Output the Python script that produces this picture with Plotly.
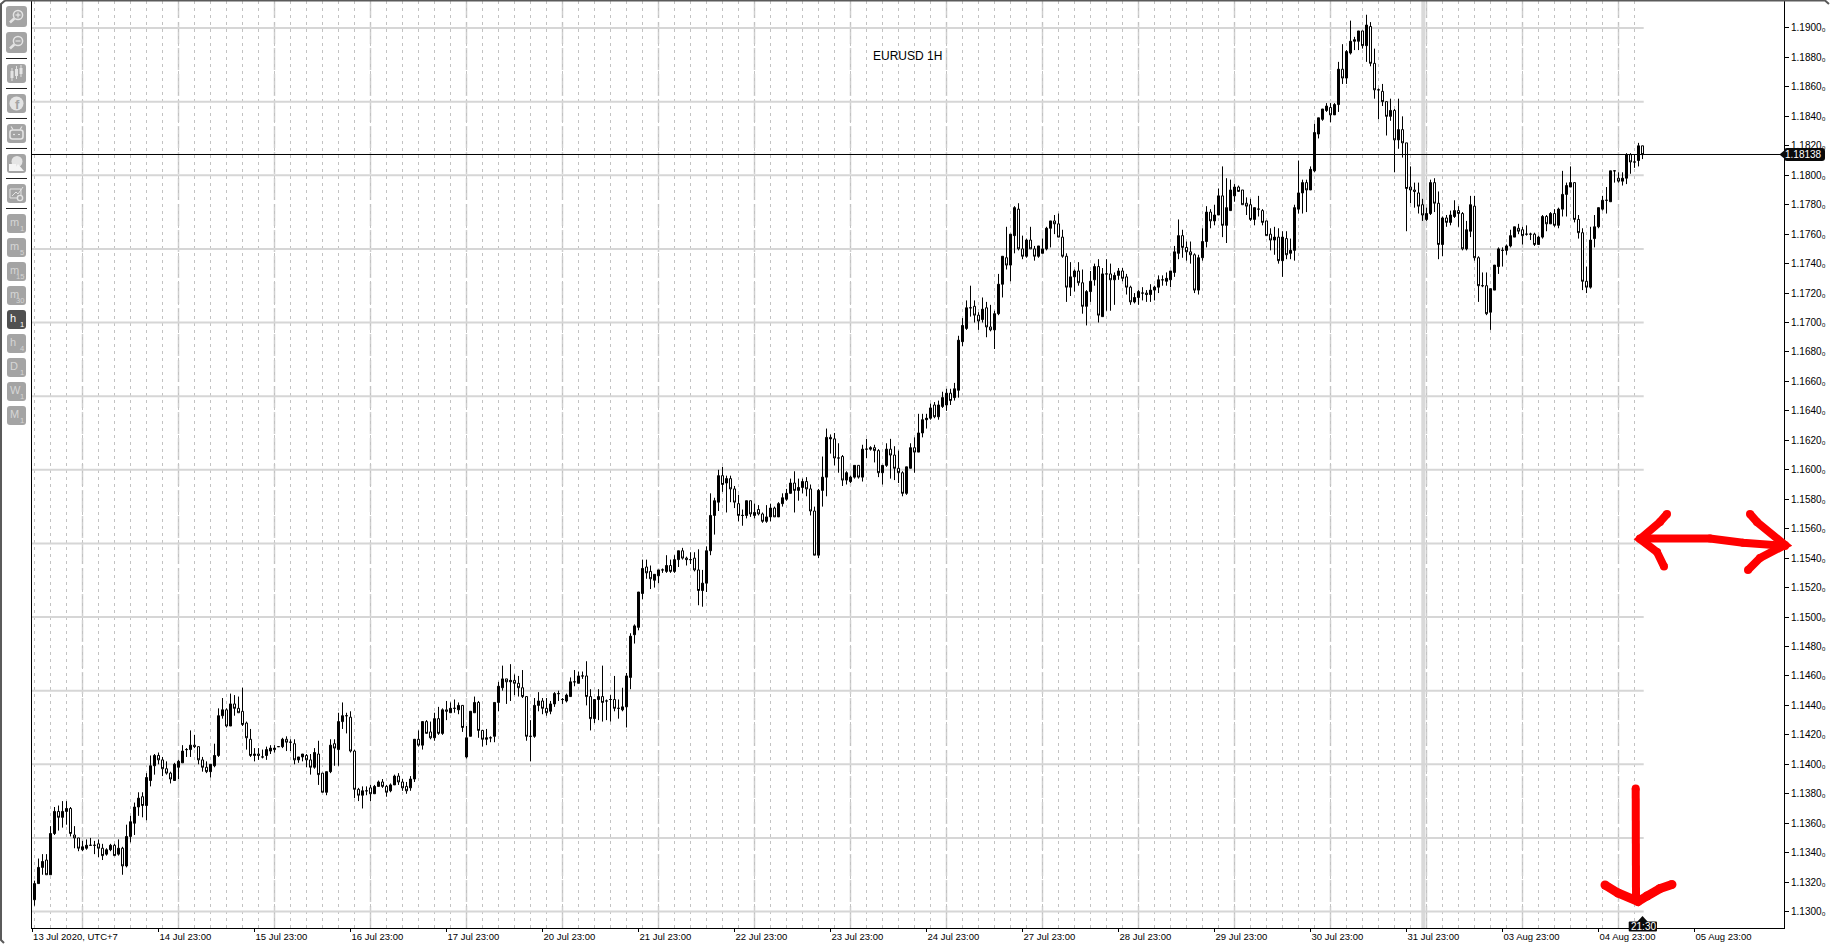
import plotly.graph_objects as go

BASE_PRICE = 1.13
PIP = 0.0001
OPEN = [
8,19,30,35,25,53,68,64,68,70,
52,50,42,43,45,45,46,43,39,42,
45,39,43,31,51,60,71,78,72,89,
99,106,103,97,94,89,98,101,110,110,
113,112,103,98,95,99,106,133,137,126,
141,138,136,128,117,106,107,105,106,109,
110,112,112,117,115,114,103,105,106,103,
98,107,94,81,95,114,110,129,133,132,
109,83,79,82,84,80,85,88,85,82,
86,92,88,85,84,90,117,113,129,122,
118,131,121,137,135,138,137,140,105,119,
135,142,123,117,118,119,142,152,158,156,
157,155,152,146,119,119,140,143,138,136,
141,148,144,143,146,156,155,160,160,146,
131,144,146,143,144,144,138,137,139,159,
188,193,216,234,231,225,228,232,231,235,
231,239,245,240,239,240,232,218,223,245,
269,278,296,291,294,287,277,269,269,279,
269,273,270,265,268,274,268,277,280,284,
291,286,288,292,287,272,242,286,295,322,
321,308,309,293,292,295,303,295,314,314,
315,313,298,303,314,310,301,298,284,301,
315,312,325,334,335,344,336,343,344,352,
349,354,387,396,410,411,405,402,410,397,
395,406,426,444,439,459,477,450,445,456,
450,445,447,450,464,469,467,458,445,424,
431,435,427,411,421,429,438,404,433,433,
429,432,435,431,424,414,417,420,420,419,
422,424,429,428,429,434,447,459,451,448,
446,422,444,455,475,469,473,486,466,476,
486,492,490,481,480,470,477,476,469,460,
456,458,442,457,447,449,477,488,495,490,
503,528,538,544,546,541,548,572,566,583,
591,591,598,588,601,576,558,557,550,540,
544,524,531,522,492,490,488,480,470,474,
495,481,453,471,468,472,476,474,450,462,
479,444,425,425,407,422,438,449,449,452,
458,464,463,460,460,460,453,458,472,467,
474,466,477,487,492,495,470,461,428,424,
457,465,477,483,482,503,498,496,498,514,
509,510,520]
HIGH = [
21,36,39,39,58,71,72,75,75,71,
58,50,48,49,50,48,49,46,43,46,
46,49,44,59,65,74,81,81,94,106,
107,108,105,102,95,101,103,113,111,123,
120,112,105,102,100,114,138,145,138,148,
147,146,152,129,124,111,111,110,112,113,
113,112,118,119,117,117,105,107,107,107,
111,116,94,95,117,117,135,142,135,136,
110,84,85,85,86,86,89,90,86,87,
93,94,90,88,92,117,123,129,130,129,
135,139,138,143,142,144,142,140,126,136,
146,143,123,124,119,142,156,167,158,168,
161,160,164,146,130,145,149,145,145,143,
149,150,145,148,159,164,163,163,170,151,
144,151,167,144,147,160,144,152,162,189,
195,217,239,239,235,229,232,233,242,239,
242,245,247,241,244,244,246,232,248,284,
281,300,302,296,296,289,283,273,279,279,
277,276,271,276,277,275,278,284,287,294,
299,294,294,295,290,275,287,309,328,324,
325,318,310,299,296,303,303,317,321,316,
317,314,303,318,321,316,313,299,302,318,
322,338,338,338,345,346,347,353,355,355,
359,391,403,415,425,415,407,417,414,412,
408,433,445,465,460,479,481,459,457,465,
452,452,457,465,469,473,474,463,447,441,
436,441,436,422,435,440,443,437,443,440,
434,437,437,433,425,420,422,424,422,426,
425,432,432,434,435,452,470,463,455,455,
447,446,464,479,477,480,491,506,498,497,
494,493,490,485,484,478,486,477,469,464,
465,464,462,462,457,480,510,497,497,506,
535,539,545,549,549,549,577,589,585,605,
594,598,598,609,604,586,559,562,550,552,
545,552,540,522,506,495,495,484,478,497,
498,489,472,473,476,483,479,475,469,486,
486,445,434,434,423,439,451,451,453,463,
465,467,465,466,461,461,459,473,473,475,
477,478,503,495,506,495,473,464,438,465,
473,478,486,492,503,503,502,502,515,515,
514,522,520]
LOW = [
4,19,25,25,25,52,55,57,59,51,
43,41,41,42,45,39,37,35,38,41,
38,38,25,30,47,52,65,64,62,85,
93,100,92,93,87,89,90,101,105,105,
111,100,95,94,91,98,105,131,125,126,
133,135,126,110,105,102,103,104,103,107,
108,112,111,109,109,100,101,102,98,93,
97,86,81,79,94,99,99,124,121,108,
77,75,70,79,75,80,85,84,78,81,
86,86,82,80,82,88,112,110,121,117,
116,120,120,130,135,135,134,122,104,119,
135,118,112,113,115,115,136,150,141,143,
147,146,145,116,102,118,136,134,133,134,
139,143,141,142,146,153,155,158,140,123,
128,130,129,130,129,136,131,136,125,151,
182,191,212,226,219,220,223,230,230,230,
230,234,239,235,236,231,208,207,217,242,
256,272,285,271,278,274,265,262,267,268,
267,269,264,264,265,268,268,275,279,284,
271,279,284,282,269,242,240,275,282,311,
303,298,289,290,291,294,294,292,308,313,
305,295,290,302,294,293,291,282,283,301,
298,312,322,328,334,335,334,342,340,344,
347,349,384,395,404,400,395,400,390,394,
382,405,417,436,428,447,449,443,444,450,
442,444,447,449,451,460,458,444,414,418,
421,425,406,398,414,425,400,404,408,408,
412,429,428,419,412,413,412,415,414,414,
415,420,425,425,424,431,443,444,442,440,
420,419,442,451,464,466,473,458,454,476,
482,489,480,473,469,466,472,466,459,449,
446,440,431,443,443,442,474,474,475,490,
502,525,537,543,536,541,543,562,562,582,
585,585,586,577,574,552,538,547,527,537,
502,518,512,462,481,478,474,469,469,473,
475,443,445,465,466,471,465,449,449,458,
442,414,424,405,395,422,433,438,446,451,
458,460,453,459,456,452,453,457,462,467,
465,464,472,472,492,468,457,422,420,423,
451,464,476,474,482,495,495,493,494,501,
505,506,511]
CLOSE = [
19,30,34,25,53,68,64,68,70,53,
50,43,44,45,45,45,43,38,42,45,
38,43,31,51,61,71,77,72,91,99,
106,103,97,94,90,100,102,109,110,113,
112,103,98,95,100,106,133,137,126,141,
138,135,127,118,106,107,106,105,110,111,
111,112,117,115,115,103,105,107,103,98,
108,93,81,95,113,111,129,133,133,109,
83,79,82,82,80,85,88,85,81,86,
92,88,84,82,90,117,113,129,121,118,
131,121,137,136,138,138,140,125,118,136,
142,123,117,118,118,142,153,158,156,157,
155,152,146,119,119,140,143,138,135,141,
148,148,144,147,156,156,160,160,146,131,
144,146,142,143,144,138,138,139,160,187,
194,217,233,230,226,229,232,232,235,231,
239,245,240,239,239,232,218,223,245,269,
279,296,290,294,287,278,269,269,279,270,
271,270,265,268,274,268,277,281,284,291,
286,288,292,287,272,242,286,295,322,321,
308,308,293,298,295,303,295,314,314,315,
313,298,303,314,310,301,298,284,302,315,
312,325,334,335,342,336,344,349,352,347,
355,388,398,410,410,405,401,409,397,395,
406,426,445,439,460,478,450,445,456,450,
445,452,450,464,469,467,458,445,424,431,
435,427,411,421,428,438,405,433,433,429,
432,435,430,424,414,417,421,420,419,422,
424,429,429,430,435,448,459,451,448,446,
422,444,455,475,469,473,486,466,478,490,
492,489,480,479,470,478,477,468,459,456,
458,442,458,446,449,478,488,495,490,504,
529,539,545,547,541,548,572,566,584,591,
592,598,588,602,576,558,558,550,540,544,
524,531,522,491,490,489,479,473,474,495,
481,453,471,468,473,476,474,450,463,480,
444,425,425,406,423,439,450,449,452,459,
465,462,459,460,460,453,458,472,467,474,
466,477,487,493,495,470,461,428,424,456,
465,478,483,483,503,503,496,498,514,509,
509,520,514]

X_TICK_LABELS = ["13 Jul 2020, UTC+7", "14 Jul 23:00", "15 Jul 23:00", "16 Jul 23:00", "17 Jul 23:00",
                 "20 Jul 23:00", "21 Jul 23:00", "22 Jul 23:00", "23 Jul 23:00", "24 Jul 23:00",
                 "27 Jul 23:00", "28 Jul 23:00", "29 Jul 23:00", "30 Jul 23:00", "31 Jul 23:00",
                 "03 Aug 23:00", "04 Aug 23:00", "05 Aug 23:00"]
X_TICK_BARS = [-0.6] + [31 + 24 * k for k in range(17)]
Y_TICKS = [round(1.13 + 0.002 * k, 3) for k in range(31)]
Y_GRID = [round(1.13 + 0.005 * k, 3) for k in range(13)]
LAST_PRICE = 1.18138
PRICE_LINE = 1.18141
SYMBOL = "EURUSD 1H"
COUNTDOWN = "21:30"
TIMEFRAMES = [("m", "1"), ("m", "5"), ("m", "15"), ("m", "30"), ("h", "1"), ("h", "4"), ("D", "1"), ("W", "1"), ("M", "1")]

bars = list(range(len(OPEN)))
to_price = lambda seq: [round(BASE_PRICE + v * PIP, 5) for v in seq]

W, H = 1830, 944
L, R, T, B = 32, 46, 0, 16
PW, PH = W - L - R, H - T - B
PX = lambda px: (px - L) / PW
PY = lambda py: 1 - (py - T) / PH
FONT = "Liberation Sans"


def poly(points, close=False):
    s = "M" + " L".join(f"{PX(x):.5f},{PY(y):.5f}" for x, y in points)
    return s + (" Z" if close else "")


def rrect(x0, y0, x1, y1, r=3):
    p = lambda x, y: f"{PX(x):.5f},{PY(y):.5f}"
    return (f"M{p(x0+r,y0)} L{p(x1-r,y0)} Q{p(x1,y0)} {p(x1,y0+r)} L{p(x1,y1-r)} Q{p(x1,y1)} {p(x1-r,y1)} "
            f"L{p(x0+r,y1)} Q{p(x0,y1)} {p(x0,y1-r)} L{p(x0,y0+r)} Q{p(x0,y0)} {p(x0+r,y0)} Z")


shapes, notes = [], []


def add_path(d, fill=None, line=None, lw=1, layer="above"):
    shapes.append(dict(type="path", path=d, xref="paper", yref="paper", layer=layer,
                       fillcolor=fill or "rgba(0,0,0,0)",
                       line=dict(color=line or "rgba(0,0,0,0)", width=lw if line else 0)))


def add_circle(cx, cy, r, fill=None, line=None, lw=1):
    shapes.append(dict(type="circle", xref="paper", yref="paper", x0=PX(cx - r), x1=PX(cx + r), y0=PY(cy + r), y1=PY(cy - r),
                       fillcolor=fill or "rgba(0,0,0,0)", line=dict(color=line or "rgba(0,0,0,0)", width=lw if line else 0)))


def add_text(px, py, text, size, color, anchor="center", weight=None):
    notes.append(dict(x=PX(px), y=PY(py), xref="paper", yref="paper", text=text, showarrow=False, xanchor=anchor,
                      yanchor="middle", align="left", borderpad=0, font=dict(family=FONT, size=size, color=color, weight=weight)))


# chart grid -------------------------------------------------------------
shapes.append(dict(type="rect", xref="paper", yref="paper", x0=PX(1421.3), x1=PX(1425.3), y0=0, y1=1, layer="below",
                   fillcolor="#d9d9d9", line=dict(width=0)))
for g in Y_GRID:
    shapes.append(dict(type="line", xref="x", yref="y", x0=-0.625, x1=402.3, y0=g, y1=g, layer="below",
                       line=dict(color="#d6d6d6", width=2)))
for b in range(12, 403, 24):
    shapes.append(dict(type="line", xref="x", yref="paper", x0=b, x1=b, y0=0, y1=1, layer="below",
                       line=dict(color="#cfcfcf", width=1.5, dash="22px,4px")))
for b in range(0, 403, 4):
    shapes.append(dict(type="line", xref="x", yref="paper", x0=b, x1=b, y0=0, y1=1, layer="below",
                       line=dict(color="#c2c2c2", width=1, dash="3px,4px")))
# last price line
shapes.append(dict(type="line", xref="paper", yref="y", x0=0, x1=1, y0=PRICE_LINE, y1=PRICE_LINE, layer="above",
                   line=dict(color="#000000", width=1)))

# window frame ------------------------------------------------------------
add_path(poly([(5, 0.5), (1825, 0.5), (1829, 4)]), line="#5a5a5a", lw=2)
add_path(poly([(5, 0.5), (1, 4), (1, 940), (4, 943)]), line="#5a5a5a", lw=2)

# price tag and countdown --------------------------------------------------
add_path(rrect(1784, 148, 1825, 161, 3), fill="#0a0a0a")
add_path(poly([(1779.5, 154.5), (1786, 149), (1786, 160)], True), fill="#0a0a0a")
add_text(1803.5, 154.5, f"{LAST_PRICE:.5f}", 10, "#ffffff")
add_path(rrect(1628.7, 921.5, 1657, 931.5, 1), fill="#0a0a0a")
add_path(poly([(1642.5, 916), (1637, 922), (1648, 922)], True), fill="#0a0a0a")
add_text(1643, 926.7, COUNTDOWN, 10, "#ffffff")

# hand-drawn red arrows ----------------------------------------------------
RED = "#ff0000"
strokes = [
    ([(1640, 538.5), (1710, 538.5), (1743, 542.7), (1785, 546)], 8),
    ([(1667, 514), (1660, 522), (1640, 539), (1657, 552), (1664, 566.5)], 8),
    ([(1750, 514), (1757, 522), (1785, 545), (1760, 558), (1748, 570)], 8),
    ([(1635.7, 788.5), (1636, 900)], 8),
    ([(1605, 885), (1618, 893), (1638, 901.5), (1647, 896), (1660, 888.5), (1672, 884.5)], 9),
]
for pts, lw in strokes:
    add_path(poly(pts), line=RED, lw=lw)
    for x, y in pts:
        add_circle(x, y, lw / 2, fill=RED)

# toolbar -----------------------------------------------------------------
GREY, LIGHT = "#a4a4a4", "#e4e4e4"
add_path(rrect(6, 6, 27, 27, 3), fill=GREY)
add_path(rrect(6, 32, 27, 53, 3), fill=GREY)
for cy, minus_only in ((15, False), (41, True)):
    add_circle(18, cy, 4.6, line=LIGHT, lw=1.5)
    add_path(poly([(14.3, cy + 3.5), (10, cy + 7.5)]), line=LIGHT, lw=2.5)
    add_path(poly([(15.5, cy), (20.5, cy)]), line=LIGHT, lw=1.2)
    if not minus_only:
        add_path(poly([(18, cy - 2.5), (18, cy + 2.5)]), line=LIGHT, lw=1.2)
for sy in (58.5, 88.5, 118.5, 148.5, 178.5, 208.5):
    add_path(poly([(6, sy), (27, sy)]), line="#222222", lw=1)
for y0 in (64, 94, 124, 154, 184):
    add_path(rrect(7, y0, 26, y0 + 19, 3), fill=GREY)
for cx, t, b in ((12, 71, 78), (16.5, 69, 76), (21, 68, 74)):
    add_path(poly([(cx, t - 3), (cx, b + 3)]), line=LIGHT, lw=1)
    add_path(poly([(cx - 1.5, t), (cx + 1.5, t), (cx + 1.5, b), (cx - 1.5, b)], True), fill=LIGHT)
add_circle(16.5, 103.5, 7, fill=LIGHT)
add_text(17.5, 104.5, "f", 13, GREY, weight="bold")
add_path(rrect(10, 130, 23, 139, 2.5), line=LIGHT, lw=1.6)
add_path(poly([(13, 134.5), (15, 134.5)]), line=LIGHT, lw=1.2)
add_path(poly([(18, 134.5), (20, 134.5)]), line=LIGHT, lw=1.2)
add_path(poly([(11, 126.5), (13, 129.5)]), line=LIGHT, lw=1.2)
add_path(poly([(22, 126.5), (20, 129.5)]), line=LIGHT, lw=1.2)
add_circle(17, 161.5, 5.5, fill=LIGHT)
add_path(poly([(9, 164), (16, 164), (16, 171), (9, 171)], True), fill="#f4f4f4")
add_path(poly([(18, 164), (24, 171), (13, 171)], True), fill="#f4f4f4")
add_path(poly([(10, 189), (21, 189), (21, 198), (10, 198)], True), line=LIGHT, lw=1)
add_path(poly([(12, 196), (16, 192), (18, 194), (23, 187)]), line=LIGHT, lw=1)
add_circle(20, 198, 2.6, fill=GREY, line=LIGHT, lw=1.4)
for n, (letter, sub) in enumerate(TIMEFRAMES):
    y0 = 214 + 24 * n
    active = (letter, sub) == ("h", "1")
    add_path(rrect(7, y0, 26, y0 + 19, 3), fill="#505050" if active else GREY)
    col = "#ffffff" if active else "#d6d6d6"
    add_text(9, y0 + 8, letter, 11, col, anchor="left")
    add_text(24.5, y0 + 14.5, sub, 7.5, col, anchor="right")

add_text(907, 56, SYMBOL, 12, "#000000")

fig = go.Figure(go.Candlestick(
    x=bars, open=to_price(OPEN), high=to_price(HIGH), low=to_price(LOW), close=to_price(CLOSE),
    increasing=dict(line=dict(color="#000000", width=1), fillcolor="#000000"),
    decreasing=dict(line=dict(color="#000000", width=1), fillcolor="#ffffff"),
    whiskerwidth=0, showlegend=False, hoverinfo="skip"))

fig.update_layout(
    width=W, height=H, autosize=False, margin=dict(l=L, r=R, t=T, b=B, pad=0),
    paper_bgcolor="#ffffff", plot_bgcolor="#ffffff", showlegend=False,
    boxgap=0.5, boxgroupgap=0, shapes=shapes, annotations=notes,
    font=dict(family=FONT, color="#000000"),
    xaxis=dict(type="linear", range=[-0.625, 437.375], rangeslider=dict(visible=False), showgrid=False, zeroline=False,
               tickmode="array", tickvals=X_TICK_BARS, ticktext=X_TICK_LABELS, ticks="outside", ticklen=3, tickwidth=1,
               tickcolor="#000000", ticklabelposition="outside right", tickfont=dict(size=9.5), tickangle=0,
               showline=True, linecolor="#000000", linewidth=1, automargin=False),
    yaxis=dict(side="right", range=[1.128884, 1.191901], showgrid=False, zeroline=False, tickmode="array", tickvals=Y_TICKS,
               ticktext=[f"{v:.4f}\u2080" for v in Y_TICKS], ticks="outside", ticklen=4, tickwidth=1, tickcolor="#000000",
               tickfont=dict(size=10), showline=True, linecolor="#000000", linewidth=1, mirror=True, automargin=False),
)

fig.write_html("out.html", config=dict(displayModeBar=False),
               post_script="document.body.style.margin='0';document.body.style.overflow='hidden';")
